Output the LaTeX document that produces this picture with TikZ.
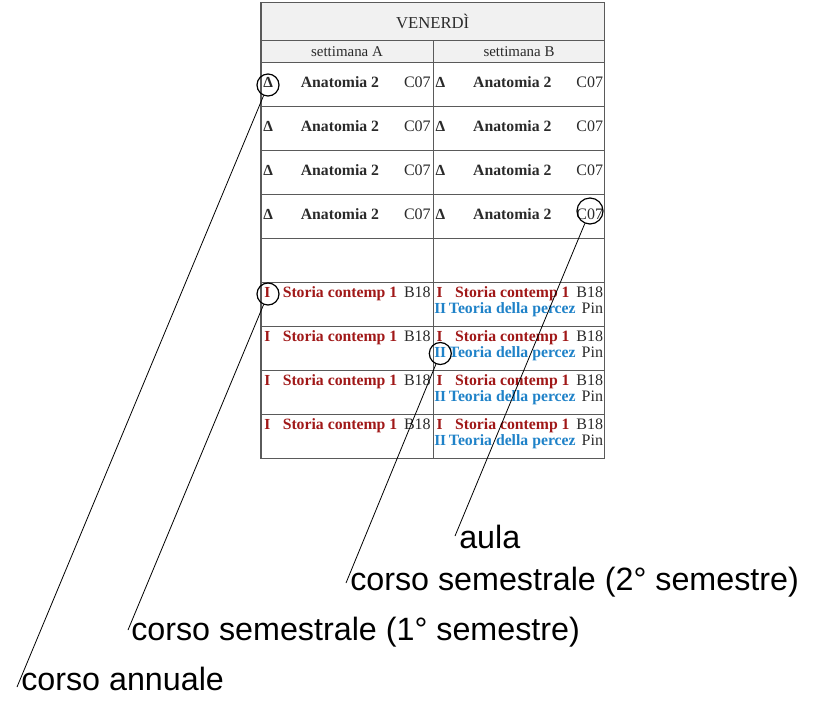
\documentclass[tikz,border=0pt]{standalone}
\usepackage{fontspec}
\setmainfont{Liberation Serif}
\newfontfamily\calloutfont{Liberation Sans}
\definecolor{rossocorso}{HTML}{A01818}
\definecolor{blucorso}{HTML}{1F82C8}
\definecolor{griglia}{HTML}{5A5A5A}
\definecolor{testata}{HTML}{F1F1F1}
\definecolor{inchiostro}{HTML}{2A2A2A}
\begin{document}
\begin{tikzpicture}[x=0.75pt, y=-0.75pt,
    linea/.style={draw=griglia, line width=0.8pt},
    sigla/.style={anchor=base west, inner sep=0pt, text=inchiostro, font=\fontsize{11.5}{12}\selectfont\bfseries},
    corso/.style={anchor=base, inner sep=0pt, text=inchiostro, font=\fontsize{11.8}{12}\selectfont\bfseries},
    stanza/.style={anchor=base east, inner sep=0pt, text=inchiostro, font=\fontsize{12}{12}\selectfont},
    ring/.style={circle, draw=black, line width=0.9pt, inner sep=0pt, minimum size=16.5pt},
    callout/.style={anchor=base west, inner sep=0pt, font=\calloutfont\fontsize{24.2}{28}\selectfont},
    leader/.style={draw=black, line width=0.6pt}]
    \useasboundingbox (0,0) rectangle (821,701);
    % Table frame with header
    \filldraw[linea, fill=testata] (261,2.7) rectangle (604.3,62.5);
    \draw[linea] (261,40.7) -- (604.3,40.7);
    \draw[linea] (261,62.5) rectangle (604.3,458.5);
    \draw[linea] (433.3,40.7) -- (433.3,458.5);
    \foreach \r in {1,...,8} \draw[linea] (261,62.5+44*\r) -- (604.3,62.5+44*\r);
    \node[anchor=base, inner sep=0pt, text=inchiostro, font=\fontsize{12.5}{12}\selectfont] (giorno) at (432.7,28.3) {VENERDÌ};
    \node[anchor=base, inner sep=0pt, text=inchiostro, font=\fontsize{11.2}{12}\selectfont] (settA) at (347,56) {settimana A};
    \node[anchor=base, inner sep=0pt, text=inchiostro, font=\fontsize{11.2}{12}\selectfont] (settB) at (519,56) {settimana B};
    % Annual course rows
    \foreach \r in {0,...,3}{
      \foreach \c/\x in {A/261,B/433.3}{
        \node[sigla] (segno\c\r) at (\x+2,87.5+44*\r) {Δ};
        \node[corso] (nome\c\r) at (\x+79,87.5+44*\r) {Anatomia 2};
        \node[stanza] (aula\c\r) at (\x+170,87.5+44*\r) {C07};
      }
    }
    % Semester course rows
    \foreach \r in {5,...,8}{
      \foreach \c/\x in {A/261,B/433.3}{
        \node[sigla, text=rossocorso] (primo\c\r) at (\x+3,77.5+44*\r) {I};
        \node[corso, text=rossocorso] (storia\c\r) at (\x+79,77.5+44*\r) {Storia contemp 1};
        \node[stanza] (bl\c\r) at (\x+170,77.5+44*\r) {B18};
      }
      \node[sigla, text=blucorso] (secondo\r) at (434,93.1+44*\r) {II};
      \node[corso, text=blucorso] (teoria\r) at (512.3,93.1+44*\r) {Teoria della percez};
      \node[stanza] (pin\r) at (603.3,93.1+44*\r) {Pin};
    }
    % Rings and leaders
    \node[ring] (ringAnn) at (268,85) {};
    \node[ring] (ringSem1) at (268,294) {};
    \node[ring] (ringSem2) at (440.3,353.5) {};
    \node[ring, minimum size=19.5pt] (ringAula) at (590,211) {};
    \coordinate (endAula) at (455,536);
    \coordinate (endSem2) at (346,583);
    \coordinate (endSem1) at (128,630);
    \coordinate (endAnn) at (17,687);
    \node[callout] (txtAula) at (459,548) {aula};
    \node[callout] (txtSem2) at (350,590) {corso semestrale (2° semestre)};
    \node[callout] (txtSem1) at (131,640) {corso semestrale (1° semestre)};
    \node[callout] (txtAnn) at (21,690) {corso annuale};
    \draw[leader] (ringAula) -- (endAula);
    \draw[leader] (ringSem2) -- (endSem2);
    \draw[leader] (ringSem1) -- (endSem1);
    \draw[leader] (ringAnn) -- (endAnn);
\end{tikzpicture}
\end{document}
